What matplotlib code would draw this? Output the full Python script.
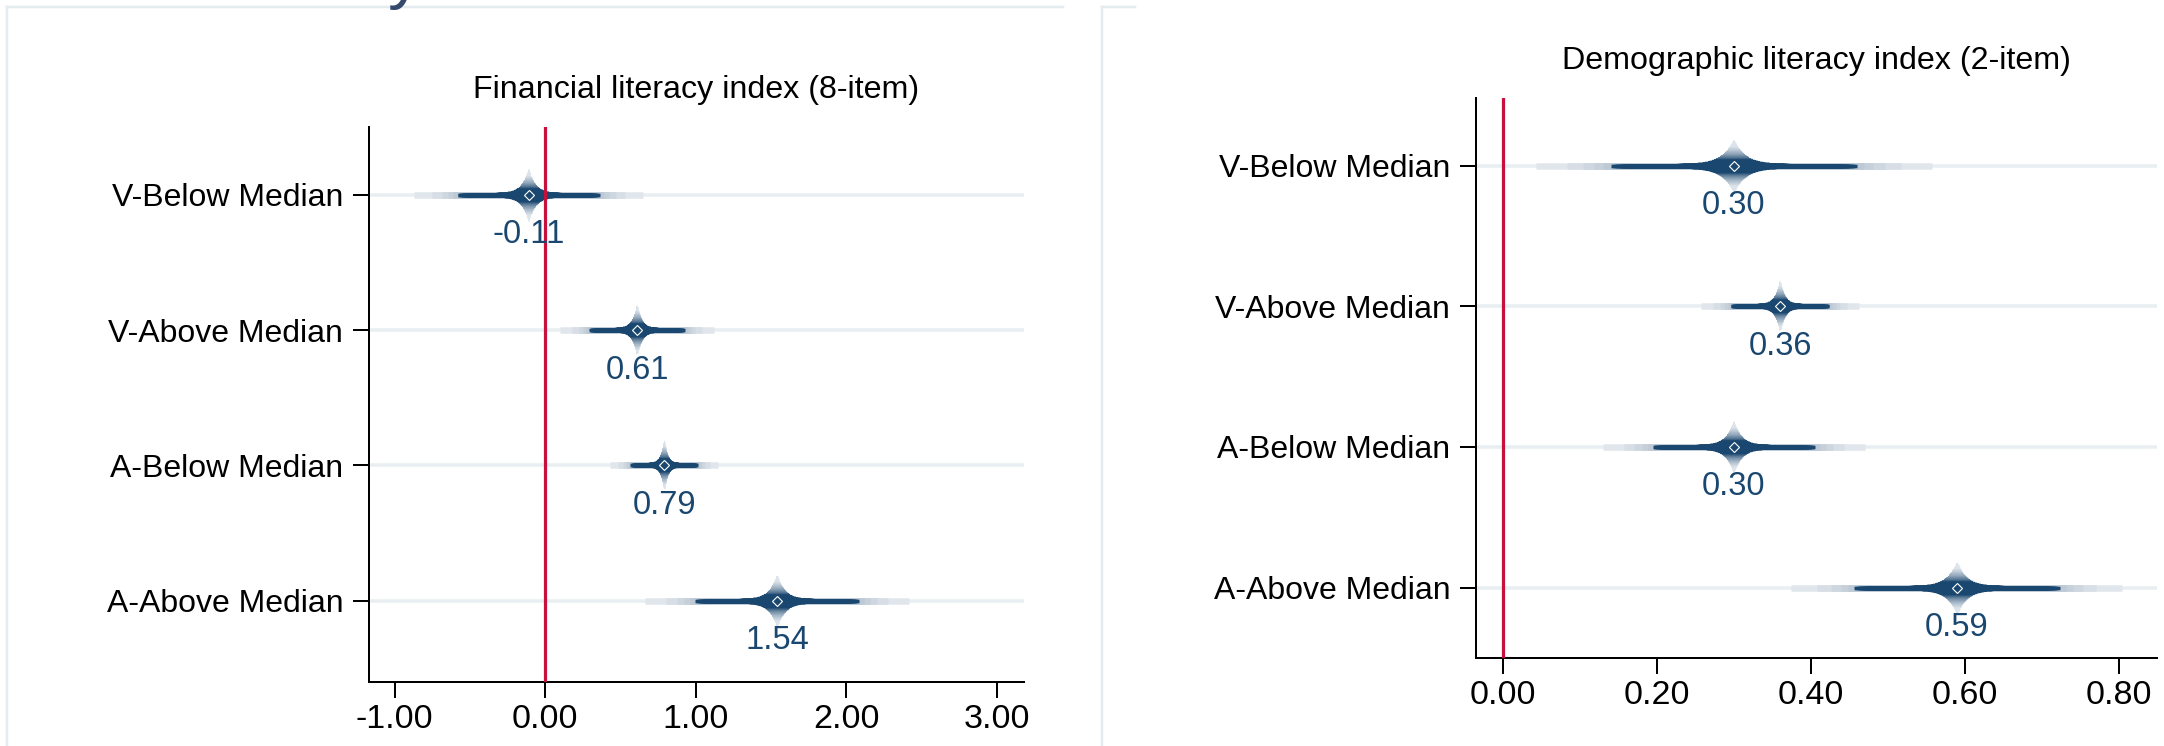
import numpy as np
import matplotlib.pyplot as plt
from matplotlib.colors import to_rgb
from matplotlib.lines import Line2D
from statistics import NormalDist

plt.rcParams['font.family'] = ['Liberation Sans', 'DejaVu Sans']

# data
groups = ["V-Below Median", "V-Above Median", "A-Below Median", "A-Above Median"]

fin_title = "Financial literacy index (8-item)"
fin_coef = [-0.11, 0.61, 0.79, 1.54]
fin_se = [0.295, 0.198, 0.14, 0.34]
fin_ticks = [-1.0, 0.0, 1.0, 2.0, 3.0]

dem_title = "Demographic literacy index (2-item)"
dem_coef = [0.30, 0.36, 0.30, 0.59]
dem_se = [0.100, 0.040, 0.066, 0.0835]
dem_ticks = [0.0, 0.2, 0.4, 0.6, 0.8]

NAVY = "#1A476F"
LIGHT = "#DCE3EA"
GRID = "#E8EEF1"
RED = "#C8103C"
PX = 0.72  # points per pixel at dpi 100
nd = NormalDist()


def mix(c1, c2, t):
    a, b = np.array(to_rgb(c1)), np.array(to_rgb(c2))
    return tuple(a + (b - a) * t)


def smooth_ci(ax, y, b, se):
    # outer levels, drawn as light steps
    outer = [0.99, 0.97, 0.95, 0.93, 0.91]
    outer_cols = ["#E0E6EC", "#D7DEE6", "#CED7E0", "#C6D0DA", "#BDC9D5"]
    half = [se * nd.inv_cdf((1 + p) / 2) for p in outer]
    ax.hlines([y] * len(outer), [b - h for h in half], [b + h for h in half],
              colors=outer_cols, linewidths=6.5 * PX, zorder=3, capstyle='butt')

    # inner levels: thick & light near the estimate, thin & dark further out
    inner = np.linspace(0.004, 0.89, 220)
    half = se * np.array([nd.inv_cdf((1 + p) / 2) for p in inner])
    thick = 2 * (1.7 + 25.5 * np.exp(-8 * inner))
    f = np.clip((inner - 0.04) / 0.17, 0, 1)
    cols = [mix(LIGHT, NAVY, t) for t in f]
    ax.hlines([y] * len(inner), b - half, b + half, colors=cols,
              linewidths=thick * PX, zorder=3, capstyle='butt')

    ax.plot(b, y, marker='D', ms=5, mfc='none', mec='white', mew=0.8, zorder=6)
    ax.annotate(f"{b:.2f}", (b, y), xytext=(0, -40 * PX), textcoords='offset points',
                ha='center', va='center', color=NAVY, fontsize=23.5, zorder=7)


def panel(ax, title, coef, se, ticks, xlim, ylim):
    ypos = np.arange(len(groups))
    for yy in ypos:
        ax.axhline(yy, color=GRID, lw=3.5 * PX, zorder=1)
    ax.axvline(0, color=RED, lw=3.2 * PX, zorder=5)
    for yy, b, s in zip(ypos, coef, se):
        smooth_ci(ax, yy, b, s)
    ax.set_xlim(*xlim)
    ax.set_ylim(*ylim)
    ax.set_yticks(ypos)
    ax.set_yticklabels(groups, fontsize=23)
    ax.set_xticks(ticks)
    ax.set_xticklabels([f"{t:.2f}" for t in ticks], fontsize=24.5)
    ax.tick_params(length=16 * PX, width=2 * PX, color='black')
    ax.tick_params(axis='x', pad=4)
    ax.tick_params(axis='y', pad=7)
    for side in ['top', 'right']:
        ax.spines[side].set_visible(False)
    for side in ['left', 'bottom']:
        ax.spines[side].set_linewidth(2 * PX)
    ax.set_title(title, fontsize=23.2, pad=21)


W, H = 2164, 746
fig = plt.figure(figsize=(W / 100, H / 100), dpi=100)

ax1 = fig.add_axes([369 / W, 1 - 682 / H, 655 / W, 555 / H])
panel(ax1, fin_title, fin_coef, fin_se, fin_ticks, (-1.17, 3.18), (3.6, -0.5))

ax2 = fig.add_axes([1476 / W, 1 - 658 / H, 681 / W, 560 / H])
panel(ax2, dem_title, dem_coef, dem_se, dem_ticks, (-0.035, 0.85), (3.5, -0.48))

# light frames of the two graph windows (pixel coordinates)
frame_lines = [([7, 7], [0, H - 7]), ([7, 1063], [H - 7, H - 7]),
               ([1102, 1102], [0, H - 7]), ([1102, 1135], [H - 7, H - 7])]
for xs, ys in frame_lines:
    fig.add_artist(Line2D(xs, ys, color="#E4ECEF", lw=2.5 * PX, transform=None))

# descender of a cut-off heading above
fig.text(405 / W, 1 + 4 / H, "y", fontsize=50, color="#34496B", ha='center', va='baseline')

fig.savefig("out.png", dpi=100)
